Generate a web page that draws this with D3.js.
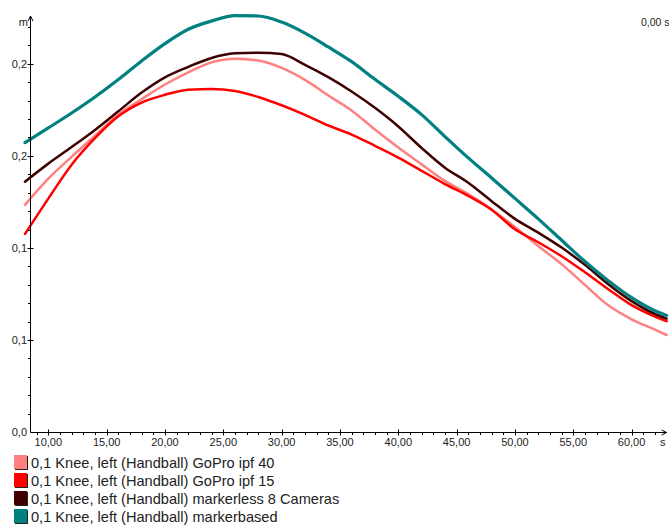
<!DOCTYPE html>
<html>
<head>
<meta charset="utf-8">
<script src="https://cdn.jsdelivr.net/npm/d3@7/dist/d3.min.js"></script>
<style>
  html, body { margin: 0; padding: 0; background: #fff; }
  svg { display: block; }
  text { font-family: "Liberation Sans", Arial, sans-serif; fill: #222; }
</style>
</head>
<body>
<svg id="chart" width="669" height="525"></svg>
<script>
// Sample times (s)
const times = [8, 10, 12, 14, 16, 18, 20, 22, 24, 26, 28, 30, 32, 34, 36, 38, 40,
               42, 44, 46, 48, 50, 52, 54, 56, 58, 60, 62, 63];

// Knee, left (Handball) - position in m, one array per system
const goproIpf40 = [0.1234, 0.1376, 0.1495, 0.1610, 0.1724, 0.1808, 0.1888, 0.1954, 0.2008, 0.2028,
                    0.2018, 0.1978, 0.1913, 0.1828, 0.1747, 0.1643, 0.1545, 0.1454, 0.1364, 0.1292,
                    0.1209, 0.1114, 0.1010, 0.0912, 0.0799, 0.0688, 0.0612, 0.0556, 0.0527];
const goproIpf15 = [0.1076, 0.1268, 0.1452, 0.1596, 0.1715, 0.1790, 0.1832, 0.1860, 0.1864, 0.1853,
                    0.1820, 0.1775, 0.1723, 0.1665, 0.1616, 0.1555, 0.1491, 0.1419, 0.1347, 0.1283,
                    0.1208, 0.1101, 0.1031, 0.0955, 0.0868, 0.0776, 0.0689, 0.0627, 0.0602];
const markerless8 = [0.1360, 0.1458, 0.1548, 0.1641, 0.1742, 0.1844, 0.1927, 0.1984, 0.2032, 0.2057,
                     0.2061, 0.2053, 0.1995, 0.1928, 0.1850, 0.1761, 0.1660, 0.1543, 0.1436, 0.1354,
                     0.1254, 0.1158, 0.1083, 0.1002, 0.0908, 0.0803, 0.0711, 0.0641, 0.0616];
const markerbased = [0.1572, 0.1652, 0.1733, 0.1820, 0.1915, 0.2016, 0.2110, 0.2188, 0.2233, 0.2262,
                     0.2260, 0.2227, 0.2167, 0.2092, 0.2012, 0.1916, 0.1824, 0.1724, 0.1605, 0.1489,
                     0.1380, 0.1269, 0.1158, 0.1042, 0.0926, 0.0822, 0.0730, 0.0659, 0.0633];

const seriesNames = [
  "0,1  Knee, left (Handball) GoPro ipf 40",
  "0,1  Knee, left (Handball) GoPro ipf 15",
  "0,1  Knee, left (Handball) markerless 8 Cameras",
  "0,1  Knee, left (Handball) markerbased"
];
const seriesValues = [goproIpf40, goproIpf15, markerless8, markerbased];
const seriesColors = ["#ff8080", "#ff0000", "#3f0000", "#008080"];
const seriesWidths = [2.5, 2.5, 2.5, 3.2];

// Axis ticks
const xTickValues = [10, 15, 20, 25, 30, 35, 40, 45, 50, 55, 60];
const xTickLabels = ["10,00", "15,00", "20,00", "25,00", "30,00", "35,00", "40,00", "45,00", "50,00", "55,00", "60,00"];
const yTickValues = [0, 0.05, 0.10, 0.15, 0.20];
const yTickLabels = ["0,0", "0,1", "0,1", "0,2", "0,2"];

const svg = d3.select("#chart");

const x = d3.scaleLinear().domain([8.43, 63]).range([30, 666.6]);
const y = d3.scaleLinear().domain([0, 0.226]).range([432, 16]);

// Curves
const line = d3.line()
  .x((d, i) => x(times[i]))
  .y(d => y(d))
  .curve(d3.curveMonotoneX);

svg.append("g").selectAll("path")
  .data(seriesValues)
  .join("path")
  .attr("d", d => line(d))
  .attr("fill", "none")
  .attr("stroke", (d, i) => seriesColors[i])
  .attr("stroke-width", (d, i) => seriesWidths[i])
  .attr("stroke-linejoin", "round")
  .attr("stroke-linecap", "round");

// Axes
const axisG = svg.append("g").attr("stroke", "#000").attr("stroke-width", 1);
const x0 = Math.round(x.range()[0]) + 0.5;
const yBase = Math.round(y(0)) + 0.5;

// y axis line with arrow
axisG.append("line").attr("x1", x0).attr("x2", x0).attr("y1", yBase).attr("y2", y.range()[1]);
axisG.append("path")
  .attr("d", `M${x0 - 2.5},${y.range()[1] + 5} L${x0},${y.range()[1]} L${x0 + 2.5},${y.range()[1] + 5}`)
  .attr("fill", "none");

// x axis line with arrow
const xEnd = x.range()[1];
axisG.append("line").attr("x1", x0).attr("x2", xEnd).attr("y1", yBase).attr("y2", yBase);
axisG.append("path")
  .attr("d", `M${xEnd - 5},${yBase - 2.5} L${xEnd},${yBase} L${xEnd - 5},${yBase + 2.5}`)
  .attr("fill", "none");

// y ticks: majors every 0.05, minors every 0.01
const yMinor = d3.range(0, 0.2201, 0.01).filter(v => Math.abs((v / 0.05) - Math.round(v / 0.05)) > 1e-6);
axisG.selectAll(".ymin").data(yMinor).join("line")
  .attr("x1", x0 - 2.5).attr("x2", x0)
  .attr("y1", d => Math.round(y(d)) + 0.5).attr("y2", d => Math.round(y(d)) + 0.5);
axisG.selectAll(".ymaj").data(yTickValues.slice(1)).join("line")
  .attr("x1", x0 - 3).attr("x2", x0 + 3)
  .attr("y1", d => Math.round(y(d)) + 0.5).attr("y2", d => Math.round(y(d)) + 0.5);

svg.append("g").selectAll("text").data(yTickValues).join("text")
  .attr("x", x0 - 3.5)
  .attr("y", d => y(d) + 4)
  .attr("text-anchor", "end")
  .attr("font-size", 11)
  .text((d, i) => yTickLabels[i]);

// x ticks: majors every 5 s, minors every 1 s
const xMinor = d3.range(9, 63, 1).filter(v => v % 5 !== 0);
axisG.selectAll(".xmin").data(xMinor).join("line")
  .attr("x1", d => Math.round(x(d)) + 0.5).attr("x2", d => Math.round(x(d)) + 0.5)
  .attr("y1", yBase).attr("y2", yBase + 2.5);
axisG.selectAll(".xmaj").data(xTickValues).join("line")
  .attr("x1", d => Math.round(x(d)) + 0.5).attr("x2", d => Math.round(x(d)) + 0.5)
  .attr("y1", yBase - 3).attr("y2", yBase + 3);

svg.append("g").selectAll("text").data(xTickValues).join("text")
  .attr("x", d => x(d))
  .attr("y", 446)
  .attr("text-anchor", "middle")
  .attr("font-size", 11)
  .text((d, i) => xTickLabels[i]);

// Units
svg.append("text").attr("x", 28).attr("y", 26).attr("text-anchor", "end").attr("font-size", 11).text("m");
svg.append("text").attr("x", 660).attr("y", 446).attr("font-size", 11).text("s");
svg.append("text").attr("x", 641).attr("y", 26).attr("font-size", 10.5).text("0,00 s");

// Legend
const legend = svg.append("g").attr("transform", "translate(14,455)");
const rows = legend.selectAll("g").data(seriesNames).join("g")
  .attr("transform", (d, i) => `translate(0,${i * 18})`);
rows.append("rect").attr("x", 1).attr("y", 1).attr("width", 13).attr("height", 14).attr("fill", "#222");
rows.append("rect").attr("x", 0).attr("y", 0).attr("width", 13).attr("height", 14)
  .attr("fill", (d, i) => seriesColors[i]);
rows.append("text").attr("x", 17).attr("y", 12.5).attr("font-size", 14.6).text(d => d);
</script>
</body>
</html>
